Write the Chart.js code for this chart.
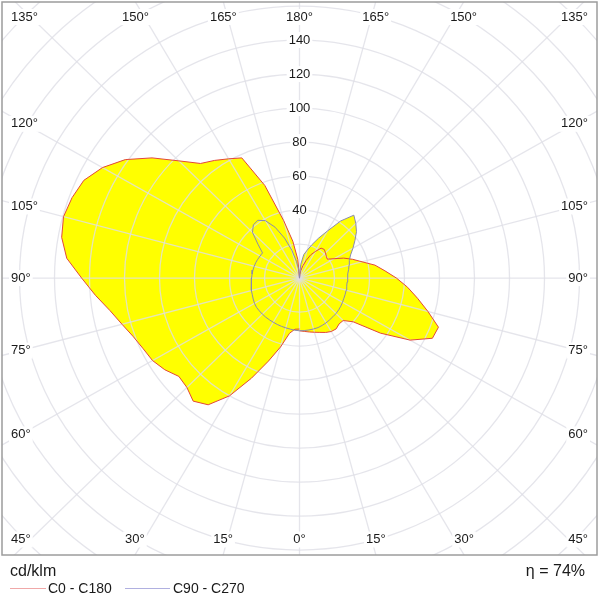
<!DOCTYPE html>
<html>
<head>
<meta charset="utf-8">
<title>Polar intensity diagram</title>
<script src="https://cdn.jsdelivr.net/npm/chart.js@4.4.0/dist/chart.umd.min.js"></script>
<style>
    html, body { margin: 0; padding: 0; background: #fff; }
    #wrap { position: relative; width: 600px; height: 600px; font-family: "Liberation Sans", Arial, sans-serif; color: #1a1a1a; }
    #wrap canvas { position: absolute; left: 0; top: 0; }
    .txt { position: absolute; white-space: nowrap; line-height: 1; }
    .key { position: absolute; height: 1px; }
</style>
</head>
<body>
<div id="wrap">
    <canvas id="polarChart" width="600" height="600"></canvas>
    <div class="txt" style="left:10px; top:563px; font-size:16px;">cd/klm</div>
    <div class="txt" style="right:15px; top:563px; font-size:16px;">η = 74%</div>
    <div class="key" style="left:10px; top:588px; width:36px; background:#f0a8a8;"></div>
    <div class="txt" style="left:48px; top:581px; font-size:14px;">C0 - C180</div>
    <div class="key" style="left:125px; top:588px; width:45px; background:#b0b0e0;"></div>
    <div class="txt" style="left:173px; top:581px; font-size:14px;">C90 - C270</div>
</div>
<script>
document.addEventListener("DOMContentLoaded", function () {
    // gamma angles (0 = straight down, 180 = straight up), every 5 degrees
    const gammaAngles = [
        0, 5, 10, 15, 20, 25, 30, 35, 40, 45, 50, 55, 60, 65, 70, 75, 80, 85, 90,
        95, 100, 105, 110, 115, 120, 125, 130, 135, 140, 145, 150, 155, 160, 165, 170, 175, 180,
    ];

    // cd/klm, right half of the C0 - C180 plane
    const c0Values = [
        31, 31.5, 32.2, 33, 34, 35.3, 36.3, 36.5, 35.2, 35.3, 40, 56.5, 73, 83.8, 84.5, 76, 68.5, 62, 55.4,
        49, 43.8, 37, 32.3, 27.8, 22.8, 19.4, 20, 21, 22, 21.5, 18, 15, 11, 7.5, 4.5, 2, 0,
    ];
    // left half of the C0 - C180 plane
    const c180Values = [
        30, 30.2, 33, 42, 52, 65, 80, 91, 94.5, 91, 90, 94, 97, 98.5, 101, 105, 110, 117, 124.5,
        133.5, 138, 139.6, 138.3, 136, 130, 121.5, 110, 97.5, 88, 84.5, 81, 78, 58, 35, 22, 11, 0,
    ];
    // right half of the C90 - C270 plane
    const c90Values = [
        31, 31, 31, 31, 31, 30.7, 30.4, 30, 29.7, 29.5, 29.2, 28.8, 28.4, 28, 27.8, 27.6, 27.4, 27.3, 27.4,
        27.8, 28.5, 29.3, 30.3, 32.2, 35.3, 38.7, 42.5, 45.5, 48.3, 41, 32, 26, 21, 17, 14, 8, 0,
    ];
    // left half of the C90 - C270 plane
    const c270Values = [
        31, 30.8, 30.5, 30.3, 30.2, 30.1, 30, 30, 30, 30, 30, 30, 29.7, 29.2, 28.7, 28.3, 28, 27.7, 27.4,
        27.2, 27, 26.8, 26.6, 26.3, 26, 25.8, 31, 38, 41, 41.5, 39, 33, 25, 17, 10, 5, 0,
    ];

    const ringValues = [20, 40, 60, 80, 100, 120, 140, 160, 180, 200, 220, 240];
    const ringLabels = [40, 60, 80, 100, 120, 140];
    const angleLabels = [0, 15, 30, 45, 60, 75, 90, 105, 120, 135, 150, 165, 180];

    // closed outline: right half going up, then left half coming back down
    function outline(rightSide, leftSide) {
        const pts = [];
        gammaAngles.forEach((g, i) => {
            const a = (g * Math.PI) / 180;
            pts.push({ x: rightSide[i] * Math.sin(a), y: -rightSide[i] * Math.cos(a) });
        });
        for (let i = gammaAngles.length - 1; i >= 0; i--) {
            const a = (gammaAngles[i] * Math.PI) / 180;
            pts.push({ x: -leftSide[i] * Math.sin(a), y: -leftSide[i] * Math.cos(a) });
        }
        return pts;
    }

    const planeC0 = outline(c0Values, c180Values);
    const planeC90 = outline(c90Values, c270Values);

    const FONT = '"Liberation Sans", Arial, sans-serif';

    function drawGrid(chart) {
        const { ctx, chartArea: a, scales } = chart;
        const x = scales.x, y = scales.y;
        const cx = x.getPixelForValue(0), cy = y.getPixelForValue(0);
        const kx = x.getPixelForValue(1) - cx, ky = cy - y.getPixelForValue(1);
        ctx.save();
        ctx.beginPath();
        ctx.rect(a.left, a.top, a.right - a.left, a.bottom - a.top);
        ctx.clip();
        ctx.strokeStyle = "rgba(222, 222, 230, 0.8)";
        ctx.lineWidth = 1.3;
        ringValues.forEach((r) => {
            ctx.beginPath();
            ctx.ellipse(cx, cy, r * kx, r * ky, 0, 0, Math.PI * 2);
            ctx.stroke();
        });
        // rays every 15 degrees, each one drawn through the centre
        for (let g = 0; g < 180; g += 15) {
            const a2 = (g * Math.PI) / 180;
            const far = 400;
            ctx.beginPath();
            ctx.moveTo(x.getPixelForValue(far * Math.sin(a2)), y.getPixelForValue(-far * Math.cos(a2)));
            ctx.lineTo(x.getPixelForValue(-far * Math.sin(a2)), y.getPixelForValue(far * Math.cos(a2)));
            ctx.stroke();
        }
        ctx.restore();
    }

    function labelBox(ctx, text, px, py) {
        const w = ctx.measureText(text).width;
        const left = px - w / 2;
        ctx.fillStyle = "#ffffff";
        ctx.fillRect(left - 2, py - 8, w + 4, 16);
        ctx.fillStyle = "#1a1a1a";
        ctx.fillText(text, left, py);
    }

    const polarFrame = {
        id: "polarFrame",
        afterDatasetDraw(chart, args) {
            // grid sits over the yellow fill but under the outlines
            if (args.index === 1) drawGrid(chart);
        },
        afterDatasetsDraw(chart) {
            const { ctx, chartArea: a, scales } = chart;
            const x = scales.x, y = scales.y;
            const cx = x.getPixelForValue(0), cy = y.getPixelForValue(0);
            const kx = x.getPixelForValue(1) - cx, ky = cy - y.getPixelForValue(1);
            ctx.save();
            ctx.font = "13px " + FONT;
            ctx.textBaseline = "middle";
            ctx.textAlign = "left";

            ringLabels.forEach((v) => {
                labelBox(ctx, String(v), cx, y.getPixelForValue(v));
            });

            angleLabels.forEach((g) => {
                const sides = g === 0 || g === 180 ? [1] : [-1, 1];
                sides.forEach((side) => {
                    const text = g + "°";
                    const w = ctx.measureText(text).width;
                    const s = Math.sin((g * Math.PI) / 180), c = Math.cos((g * Math.PI) / 180);
                    const dx = side * s * kx, dy = c * ky;
                    let tV = Infinity, tH = Infinity;
                    if (Math.abs(dy) > 1e-6) tV = (dy > 0 ? a.bottom - cy : cy - a.top) / Math.abs(dy);
                    if (Math.abs(dx) > 1e-6) tH = (dx > 0 ? a.right - cx : cx - a.left) / Math.abs(dx);
                    let px, py;
                    if (tV <= tH) {
                        py = dy > 0 ? a.bottom - 15.5 : a.top + 15;
                        px = cx + dx * tV;
                    } else {
                        px = dx > 0 ? a.right - 9 - w / 2 : a.left + 9 + w / 2;
                        py = cy + dy * (Math.abs(px - cx) / Math.abs(dx));
                    }
                    px = Math.min(Math.max(px, a.left + 9 + w / 2), a.right - 9 - w / 2);
                    labelBox(ctx, text, px, py);
                });
            });

            ctx.strokeStyle = "#9c9c9c";
            ctx.lineWidth = 1.5;
            ctx.strokeRect(a.left, a.top, a.right - a.left, a.bottom - a.top);
            ctx.restore();
        },
    };

    new Chart(document.getElementById("polarChart"), {
        type: "scatter",
        data: {
            datasets: [
                {
                    label: "C0 - C180 area",
                    data: planeC0,
                    showLine: true,
                    fill: "shape",
                    backgroundColor: "#ffff00",
                    borderColor: "rgba(0,0,0,0)",
                    borderWidth: 0,
                    pointRadius: 0,
                    order: 4,
                },
                {
                    label: "C90 - C270 area",
                    data: planeC90,
                    showLine: true,
                    fill: "shape",
                    backgroundColor: "#ffff00",
                    borderColor: "rgba(0,0,0,0)",
                    borderWidth: 0,
                    pointRadius: 0,
                    order: 3,
                },
                {
                    label: "C0 - C180",
                    data: planeC0,
                    showLine: true,
                    fill: false,
                    borderColor: "#e2463a",
                    borderWidth: 1,
                    pointRadius: 0,
                    order: 2,
                },
                {
                    label: "C90 - C270",
                    data: planeC90,
                    showLine: true,
                    fill: false,
                    borderColor: "#8a8aae",
                    borderWidth: 1,
                    pointRadius: 0,
                    order: 1,
                },
            ],
        },
        options: {
            responsive: false,
            animation: false,
            events: [],
            layout: {
                padding: { left: 2, top: 2, right: 3, bottom: 45 },
            },
            scales: {
                x: { type: "linear", min: -170, max: 170, display: false },
                y: { type: "linear", min: -162.9, max: 162.4, display: false },
            },
            plugins: {
                legend: { display: false },
                tooltip: { enabled: false },
            },
        },
        plugins: [polarFrame],
    });
});
</script>
</body>
</html>
